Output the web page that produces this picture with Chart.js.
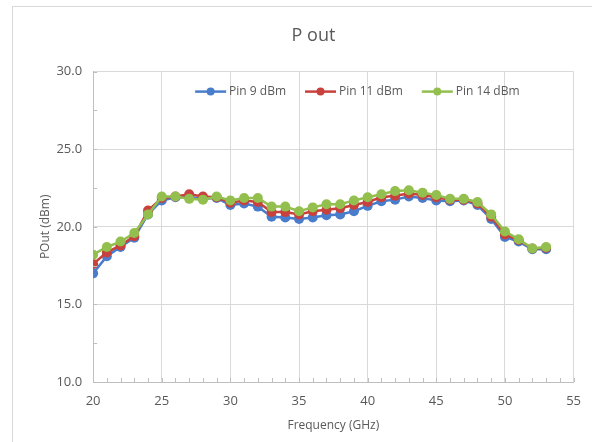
<!DOCTYPE html>
<html>
<head>
<meta charset="utf-8">
<script src="https://cdn.jsdelivr.net/npm/chart.js@4/dist/chart.umd.min.js"></script>
<style>
  html, body { margin: 0; padding: 0; background: #fff; overflow: hidden; }
  #wrap { position: relative; width: 592px; height: 442px; }
  #frame { position: absolute; left: 12px; top: 6px; width: 620px; height: 480px; border: 1px solid #d9d9d9; }
  canvas { position: absolute; left: 0; top: 0; }
</style>
</head>
<body>
<div id="wrap">
  <div id="frame"></div>
  <canvas id="poutChart" width="592" height="442"></canvas>
</div>
<script>
// frequencies (GHz)
const freqs = [20, 21, 22, 23, 24, 25, 26, 27, 28, 29, 30, 31, 32, 33, 34, 35, 36,
  37, 38, 39, 40, 41, 42, 43, 44, 45, 46, 47, 48, 49, 50, 51, 52, 53];

// output power (dBm)
const pin9 = [17.0, 18.1, 18.7, 19.3, 20.8, 21.7, 21.9, 21.9, 21.8, 21.85, 21.4, 21.5, 21.3, 20.65, 20.6, 20.5, 20.6,
  20.75, 20.8, 21.0, 21.35, 21.65, 21.75, 21.95, 21.85, 21.7, 21.65, 21.7, 21.4, 20.5, 19.35, 19.05, 18.55, 18.55];
const pin11 = [17.6, 18.35, 18.8, 19.4, 21.05, 21.85, 21.95, 22.1, 21.95, 21.9, 21.55, 21.7, 21.6, 20.95, 20.95, 20.8, 21.0,
  21.1, 21.2, 21.4, 21.6, 21.9, 22.0, 22.15, 22.05, 21.9, 21.75, 21.75, 21.5, 20.65, 19.5, 19.15, 18.6, 18.65];
const pin14 = [18.2, 18.7, 19.05, 19.6, 20.8, 21.95, 21.95, 21.8, 21.75, 21.95, 21.7, 21.85, 21.85, 21.3, 21.3, 21.0, 21.25,
  21.45, 21.45, 21.7, 21.9, 22.1, 22.3, 22.35, 22.2, 22.05, 21.8, 21.8, 21.6, 20.8, 19.7, 19.2, 18.6, 18.7];

const seriesNames = ['Pin 9 dBm', 'Pin 11 dBm', 'Pin 14 dBm'];
const seriesColors = ['#4a7ccc', '#c8413c', '#92bf4e'];
const seriesData = [pin9, pin11, pin14];

const xTicks = [20, 25, 30, 35, 40, 45, 50, 55];
const yTicks = [10, 15, 20, 25, 30];

const textColor = '#595959';
const gridColor = '#d9d9d9';
const axisColor = '#bfbfbf';
const fontFamily = 'Open Sans';

// small inward minor ticks like excel
const minorTicks = {
  id: 'minorTicks',
  afterDatasetsDraw(chart) {
    const { ctx, scales: { x, y } } = chart;
    ctx.save();
    ctx.strokeStyle = axisColor;
    ctx.lineWidth = 1;
    ctx.beginPath();
    for (let v = 20; v <= 55; v++) {
      const px = Math.round(x.getPixelForValue(v)) + 0.5;
      ctx.moveTo(px, y.bottom);
      ctx.lineTo(px, y.bottom - 4);
    }
    for (let v = 10; v <= 30; v += 2.5) {
      const py = Math.round(y.getPixelForValue(v)) + 0.5;
      ctx.moveTo(x.left, py);
      ctx.lineTo(x.left + 4, py);
    }
    ctx.stroke();
    ctx.restore();
  }
};

// legend drawn inside the plot area, near its top (line + dot markers)
const innerLegend = {
  id: 'innerLegend',
  afterDraw(chart) {
    const { ctx, chartArea } = chart;
    ctx.save();
    ctx.font = '12px ' + fontFamily;
    ctx.textBaseline = 'middle';
    const lineW = 31, gap = 3, spacing = 19;
    let xPos = chartArea.left + 102;
    const yPos = chartArea.top + 20;
    chart.data.datasets.forEach(ds => {
      ctx.strokeStyle = ds.borderColor;
      ctx.lineWidth = 2.5;
      ctx.beginPath();
      ctx.moveTo(xPos, yPos);
      ctx.lineTo(xPos + lineW, yPos);
      ctx.stroke();
      ctx.fillStyle = ds.borderColor;
      ctx.beginPath();
      ctx.arc(xPos + lineW / 2, yPos, 4, 0, Math.PI * 2);
      ctx.fill();
      ctx.fillStyle = textColor;
      ctx.fillText(ds.label, xPos + lineW + gap, yPos);
      xPos += lineW + gap + ctx.measureText(ds.label).width + spacing;
    });
    ctx.restore();
  }
};

const datasets = seriesNames.map((name, i) => ({
  label: name,
  data: freqs.map((f, j) => ({ x: f, y: seriesData[i][j] })),
  borderColor: seriesColors[i],
  backgroundColor: seriesColors[i],
  borderWidth: 2.5,
  pointRadius: 5,
  pointHoverRadius: 5,
  pointBorderWidth: 0,
  order: 3 - i, // green on top
}));

const ctx = document.getElementById('poutChart').getContext('2d');

const poutChart = new Chart(ctx, {
  type: 'line',
  data: { datasets: datasets },
  plugins: [minorTicks, innerLegend],
  options: {
    responsive: false,
    animation: false,
    layout: { padding: { left: 38, right: 3, top: 14, bottom: 9 } },
    scales: {
      x: {
        type: 'linear',
        min: 20,
        max: 55,
        afterBuildTicks: (axis) => { axis.ticks = xTicks.map(v => ({ value: v })); },
        ticks: { color: textColor, font: { family: fontFamily, size: 13 }, padding: 11 },
        grid: { color: gridColor, drawTicks: false },
        border: { color: axisColor },
        title: { display: true, text: 'Frequency (GHz)', color: textColor, font: { family: fontFamily, size: 12 }, padding: { top: -1, bottom: 0 } },
      },
      y: {
        min: 10,
        max: 30,
        afterBuildTicks: (axis) => { axis.ticks = yTicks.map(v => ({ value: v })); },
        ticks: {
          color: textColor,
          font: { family: fontFamily, size: 13 },
          padding: 11,
          callback: (value) => value.toFixed(1),
        },
        grid: { color: gridColor, drawTicks: false },
        border: { color: axisColor },
        title: { display: true, text: 'POut (dBm)', color: textColor, font: { family: fontFamily, size: 12 }, padding: { top: 0, bottom: -7 } },
      },
    },
    plugins: {
      title: {
        display: true,
        text: 'P out',
        color: textColor,
        font: { family: fontFamily, size: 18, weight: 'normal' },
        padding: { top: 11, bottom: 25 },
      },
      legend: { display: false },
      tooltip: { enabled: false },
    },
  },
});
</script>
</body>
</html>
